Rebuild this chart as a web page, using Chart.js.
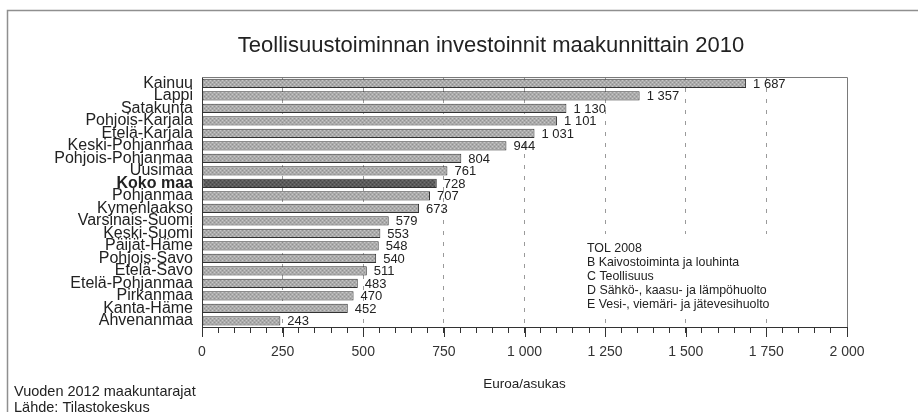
<!DOCTYPE html>
<html>
<head>
  <meta charset="utf-8">
  <title>Teollisuustoiminnan investoinnit maakunnittain 2010</title>
  <script src="https://cdn.jsdelivr.net/npm/chart.js"></script>
  <style>
    body { margin: 0; background: #fff; }
  </style>
</head>
<body>
<canvas id="chart" width="918" height="412"></canvas>

<script>
const regions = [
  "Kainuu", "Lappi", "Satakunta", "Pohjois-Karjala", "Etelä-Karjala",
  "Keski-Pohjanmaa", "Pohjois-Pohjanmaa", "Uusimaa", "Koko maa", "Pohjanmaa",
  "Kymenlaakso", "Varsinais-Suomi", "Keski-Suomi", "Päijät-Häme", "Pohjois-Savo",
  "Etelä-Savo", "Etelä-Pohjanmaa", "Pirkanmaa", "Kanta-Häme", "Ahvenanmaa"
];
const values = [1687, 1357, 1130, 1101, 1031, 944, 804, 761, 728, 707,
                673, 579, 553, 548, 540, 511, 483, 470, 452, 243];
const totalLabel = "Koko maa";
const tolNotes = [
  "TOL 2008",
  "B Kaivostoiminta ja louhinta",
  "C Teollisuus",
  "D Sähkö-, kaasu- ja lämpöhuolto",
  "E Vesi-, viemäri- ja jätevesihuolto"
];
const sourceNotes = ["Vuoden 2012 maakuntarajat", "Lähde: Tilastokeskus"];

const FONT = "'Liberation Sans', Arial, sans-serif";
const totalIdx = regions.indexOf(totalLabel);

function fmt(v) {
  return String(v).replace(/\B(?=(\d{3})+(?!\d))/g, " ");
}

// small dotted texture like the printed raster
function texture(base, dark, light) {
  const c = document.createElement("canvas");
  c.width = 4; c.height = 4;
  const g = c.getContext("2d");
  g.fillStyle = base; g.fillRect(0, 0, 4, 4);
  g.fillStyle = dark;
  g.fillRect(0, 0, 1, 1); g.fillRect(2, 2, 1, 1);
  g.fillStyle = light;
  g.fillRect(2, 0, 1, 1); g.fillRect(0, 2, 1, 1);
  return g.createPattern(c, "repeat");
}
const barFill = texture("#ababab", "#919191", "#c8c8c8");
const totalFill = texture("#5c5c5c", "#474747", "#727272");

const decorations = {
  id: "decorations",
  beforeDatasetsDraw(chart) {
    // white box behind the TOL notes hides the gridlines there
    const ctx = chart.ctx;
    ctx.save();
    ctx.fillStyle = "#fff";
    ctx.fillRect(576, 234, chart.chartArea.right - 577, 82);
    ctx.restore();
  },
  afterDatasetsDraw(chart) {
    const ctx = chart.ctx;
    const meta = chart.getDatasetMeta(0);
    ctx.save();
    ctx.font = "13px " + FONT;
    ctx.fillStyle = "#222";
    ctx.textBaseline = "middle";
    ctx.textAlign = "left";
    meta.data.forEach((bar, i) => {
      ctx.fillText(fmt(values[i]), bar.x + 7, bar.y + 1);
    });
    ctx.restore();
  },
  afterDraw(chart) {
    const ctx = chart.ctx;
    const a = chart.chartArea;
    const xs = chart.scales.x;
    ctx.save();

    // outer frame
    ctx.strokeStyle = "#8f8f8f";
    ctx.lineWidth = 1.5;
    ctx.beginPath();
    ctx.moveTo(7.5, 412);
    ctx.lineTo(7.5, 10.5);
    ctx.lineTo(918, 10.5);
    ctx.stroke();

    // plot frame
    ctx.lineWidth = 1;
    ctx.strokeStyle = "#7a7a7a";
    ctx.beginPath();
    ctx.moveTo(a.left + 0.5, a.top + 0.5);
    ctx.lineTo(a.right + 0.5, a.top + 0.5);
    ctx.lineTo(a.right + 0.5, a.bottom + 0.5);
    ctx.stroke();
    ctx.strokeStyle = "#333";
    ctx.beginPath();
    ctx.moveTo(a.left + 0.5, a.top + 0.5);
    ctx.lineTo(a.left + 0.5, a.bottom + 0.5);
    ctx.lineTo(a.right + 0.5, a.bottom + 0.5);
    ctx.stroke();

    // longer major ticks
    for (let v = 0; v <= 2000; v += 250) {
      const px = Math.round(xs.getPixelForValue(v)) + 0.5;
      ctx.beginPath();
      ctx.moveTo(px, a.bottom);
      ctx.lineTo(px, a.bottom + 10);
      ctx.stroke();
    }

    // title
    ctx.fillStyle = "#222";
    ctx.textAlign = "center";
    ctx.textBaseline = "middle";
    ctx.font = "22px " + FONT;
    ctx.fillText("Teollisuustoiminnan investoinnit maakunnittain 2010", 491, 46);

    // axis title
    ctx.font = "13.5px " + FONT;
    ctx.fillText("Euroa/asukas", (a.left + a.right) / 2, 384);

    // TOL notes
    ctx.textAlign = "left";
    ctx.font = "12.4px " + FONT;
    tolNotes.forEach((t, i) => ctx.fillText(t, 587, 249 + i * 14));

    // source notes
    ctx.font = "14.5px " + FONT;
    sourceNotes.forEach((t, i) => ctx.fillText(t, 14, 392 + i * 16));
    ctx.restore();
  }
};

new Chart(document.getElementById("chart"), {
  type: "bar",
  data: {
    labels: regions,
    datasets: [{
      data: values,
      backgroundColor: regions.map((_, i) => i === totalIdx ? totalFill : barFill),
      borderColor: "#333",
      borderWidth: 1,
      borderSkipped: false,
      categoryPercentage: 1,
      barPercentage: 0.74
    }]
  },
  options: {
    indexAxis: "y",
    responsive: false,
    animation: false,
    layout: { padding: { left: 0, right: 71, top: 77, bottom: 0 } },
    plugins: {
      legend: { display: false },
      title: { display: false },
      tooltip: { enabled: false }
    },
    scales: {
      x: {
        min: 0,
        max: 2000,
        afterFit(scale) { scale.height = 85; },
        border: { display: false, dash: [4, 7] },
        grid: {
          color: c => {
            const v = c.tick ? c.tick.value : -1;
            return (v % 250 === 0 && v > 0 && v < 2000) ? "#9a9a9a" : "rgba(0,0,0,0)";
          },
          tickColor: "#333",
          tickLength: 6,
          tickBorderDash: []
        },
        ticks: {
          stepSize: 50,
          autoSkip: false,
          maxRotation: 0,
          padding: 11,
          color: "#333",
          font: { family: FONT, size: 14 },
          callback: v => v % 250 === 0 ? fmt(v) : ""
        }
      },
      y: {
        afterFit(scale) { scale.width = 202; },
        border: { display: false },
        grid: { display: false, drawTicks: false },
        ticks: {
          padding: 9,
          color: "#222",
          autoSkip: false,
          font: c => ({
            family: FONT,
            size: 16,
            weight: c.index === totalIdx ? "bold" : "normal"
          })
        }
      }
    }
  },
  plugins: [decorations]
});
</script>
</body>
</html>
